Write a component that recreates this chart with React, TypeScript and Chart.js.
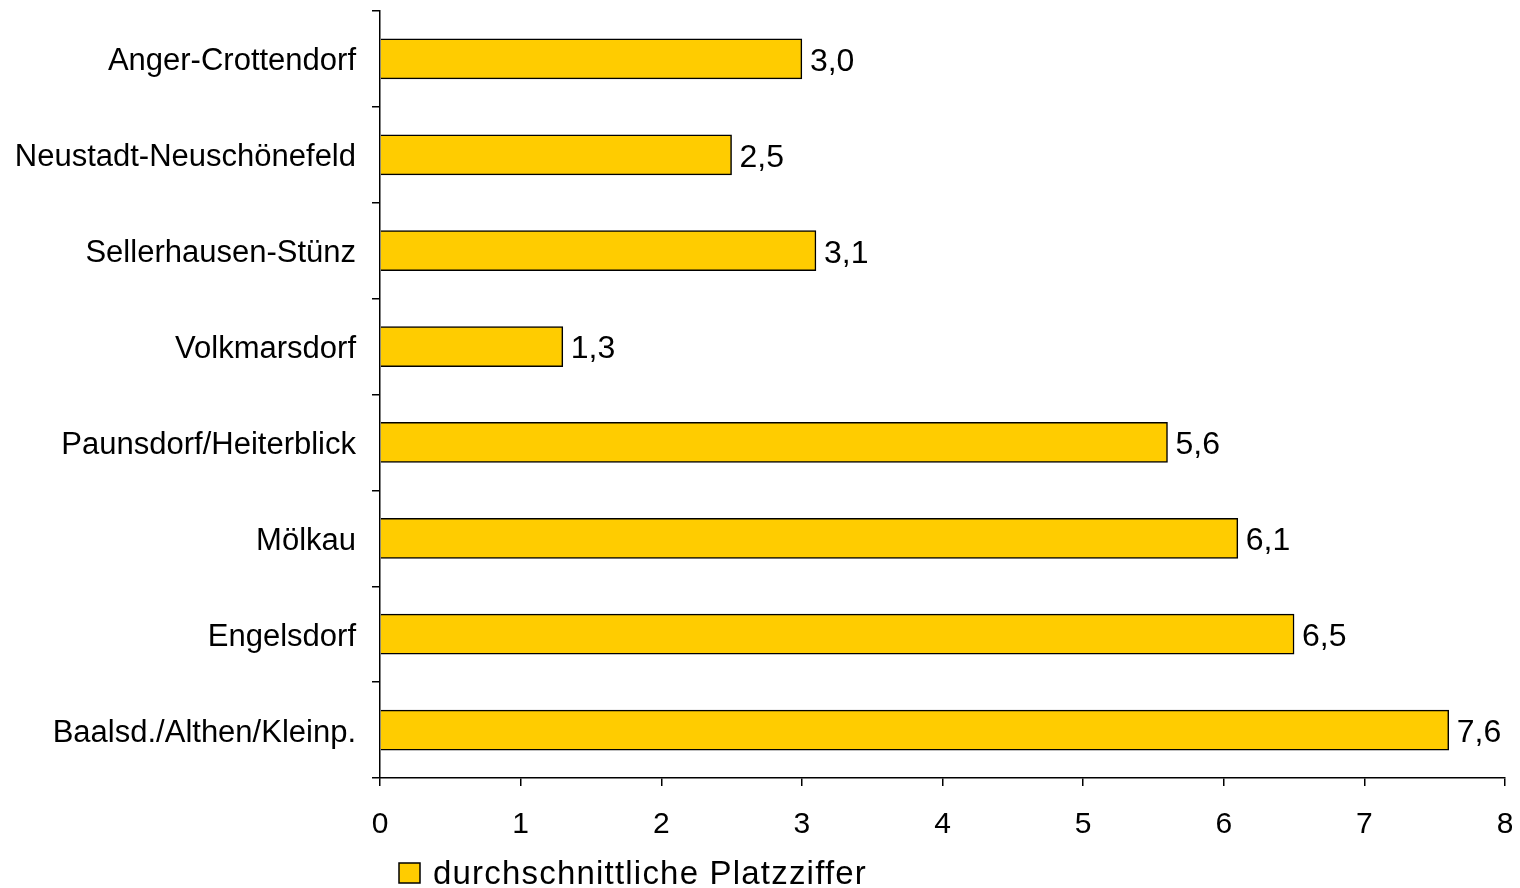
import React, { useEffect, useRef } from "react";
import { Chart, registerables } from "chart.js";

Chart.register(...registerables);

const categories = [
  "Anger-Crottendorf",
  "Neustadt-Neuschönefeld",
  "Sellerhausen-Stünz",
  "Volkmarsdorf",
  "Paunsdorf/Heiterblick",
  "Mölkau",
  "Engelsdorf",
  "Baalsd./Althen/Kleinp.",
];
const values = [3.0, 2.5, 3.1, 1.3, 5.6, 6.1, 6.5, 7.6];
const seriesLabel = "durchschnittliche Platzziffer";
const xMin = 0;
const xMax = 8;

const FONT = "'Liberation Sans', Arial, sans-serif";

const valueLabelPlugin = {
  id: "valueLabels",
  afterDatasetsDraw(chart: any) {
    const ctx = chart.ctx;
    const meta = chart.getDatasetMeta(0);
    ctx.save();
    ctx.font = `32px ${FONT}`;
    ctx.fillStyle = "#000";
    ctx.textAlign = "left";
    ctx.textBaseline = "middle";
    meta.data.forEach((bar: any, i: number) => {
      const v = chart.data.datasets[0].data[i] as number;
      ctx.fillText(v.toFixed(1).replace(".", ","), bar.x + 8, bar.y + 3);
    });
    ctx.restore();
  },
};

const legendPlugin = {
  id: "customLegend",
  afterDraw(chart: any) {
    const ctx = chart.ctx;
    const ds = chart.data.datasets[0];
    const x = 391;
    const y = 855;
    ctx.save();
    ctx.fillStyle = ds.backgroundColor;
    ctx.strokeStyle = "#000";
    ctx.lineWidth = 1.5;
    ctx.fillRect(x, y, 21, 20);
    ctx.strokeRect(x, y, 21, 20);
    ctx.font = `33px ${FONT}`;
    (ctx as any).letterSpacing = "1.2px";
    ctx.fillStyle = "#000";
    ctx.textAlign = "left";
    ctx.textBaseline = "alphabetic";
    ctx.fillText(ds.label, x + 34, y + 21);
    ctx.restore();
  },
};

export default function App() {
  const ref = useRef<HTMLCanvasElement | null>(null);
  useEffect(() => {
    if (!ref.current) return;
    const chart = new Chart(ref.current, {
      type: "bar",
      data: {
        labels: categories,
        datasets: [
          {
            label: seriesLabel,
            data: values,
            backgroundColor: "#FFCC00",
            borderColor: "#000",
            borderWidth: 1.5,
            barThickness: 40,
          },
        ],
      },
      options: {
        indexAxis: "y",
        animation: false,
        responsive: false,
        maintainAspectRatio: false,
        layout: { padding: { top: 3, right: 7, left: 0, bottom: 0 } },
        plugins: { legend: { display: false }, tooltip: { enabled: false } },
        scales: {
          x: {
            type: "linear",
            min: xMin,
            max: xMax,
            ticks: {
              stepSize: 1,
              color: "#000",
              font: { family: FONT, size: 30 },
              padding: 21,
            },
            grid: {
              drawOnChartArea: false,
              drawTicks: true,
              tickLength: 8,
              color: "#000",
              lineWidth: 1.5,
            },
            border: { color: "#000", width: 1.5 },
            afterFit(scale: any) {
              scale.height = 110;
              scale.paddingLeft = 0;
              scale.paddingRight = 0;
            },
          },
          y: {
            type: "category",
            offset: true,
            ticks: {
              color: "#000",
              font: { family: FONT, size: 31 },
              padding: 16,
              labelOffset: 3,
            },
            grid: {
              offset: true,
              drawOnChartArea: false,
              drawTicks: true,
              tickLength: 8,
              color: "#000",
              lineWidth: 1.5,
            },
            border: { color: "#000", width: 1.5 },
            afterFit(scale: any) {
              scale.width = 372;
              scale.paddingTop = 0;
              scale.paddingBottom = 0;
            },
          },
        },
      },
      plugins: [valueLabelPlugin, legendPlugin],
    });
    return () => chart.destroy();
  }, []);
  return (
    <div style={{ width: 1504, height: 880 }}>
      <canvas ref={ref} width={1504} height={880} style={{ display: "block" }} />
    </div>
  );
}
